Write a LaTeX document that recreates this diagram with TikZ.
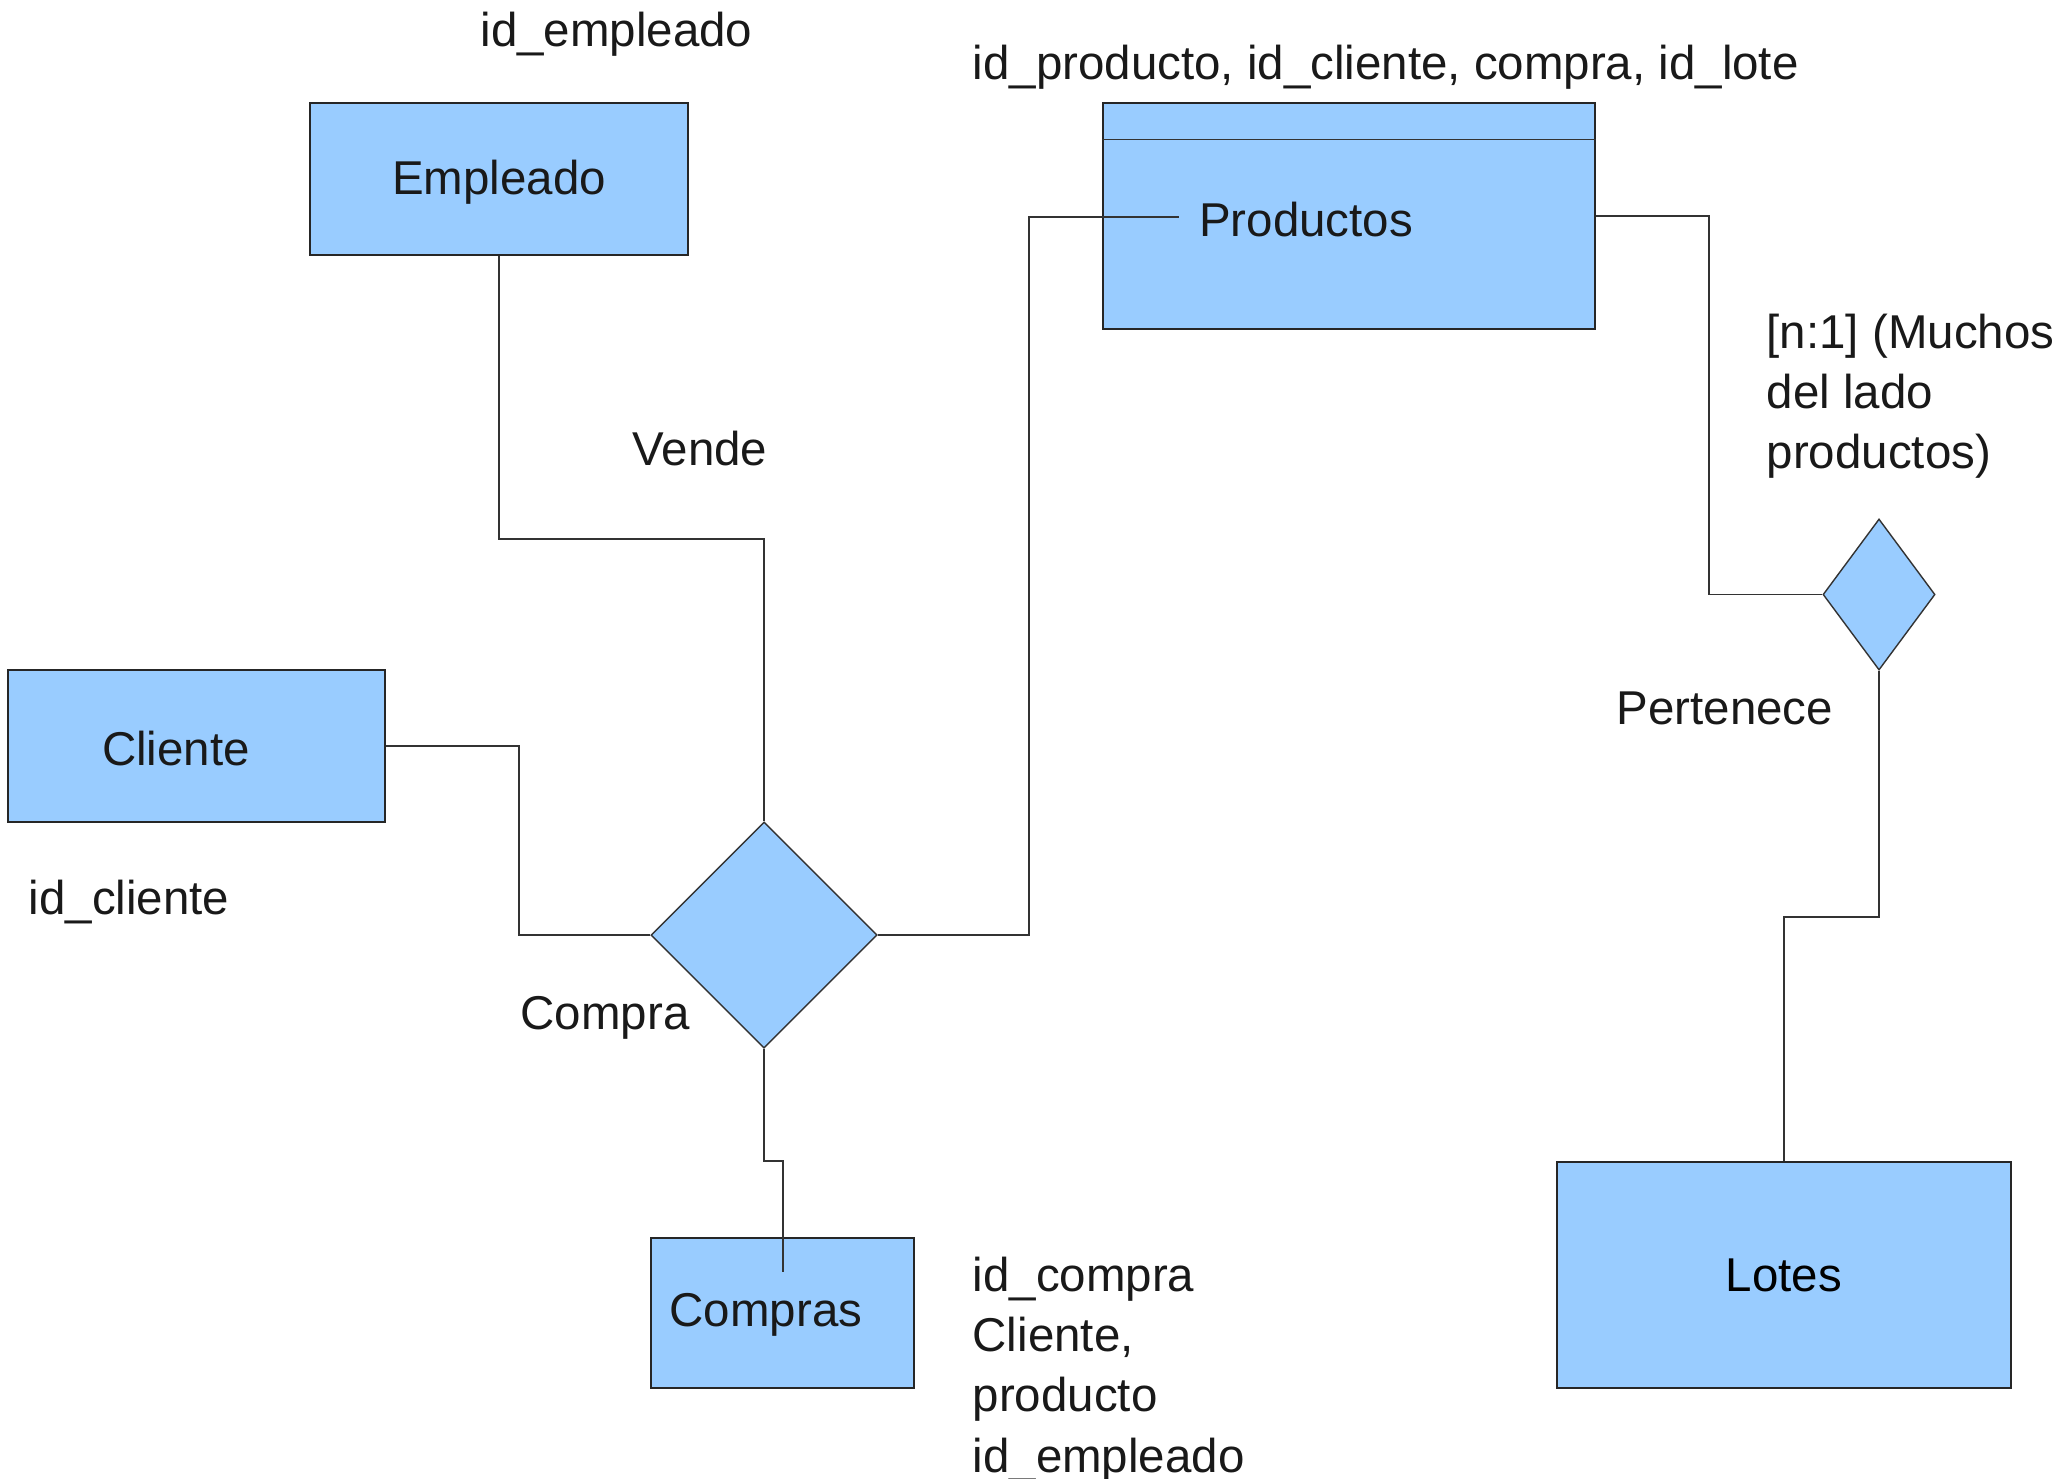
\documentclass[tikz,border=0pt]{standalone}
\usepackage{fontspec}
\setmainfont{Liberation Sans}
\usetikzlibrary{shapes.geometric}
\definecolor{celeste}{HTML}{99CCFF}

\begin{document}
\begin{tikzpicture}[x=0.01cm,y=-0.01cm,font=\fontsize{13.5}{17.1}\selectfont,
  entidad/.style={draw=black!85,fill=celeste,line width=0.5pt,inner sep=0pt},
  relacion/.style={diamond,draw=black!80,fill=celeste,line width=0.4pt,inner sep=0pt},
  texto/.style={inner sep=0pt,align=left,text=black!90,yshift=-0.03cm},
  linea/.style={draw=black!80,line width=0.5pt}]
  \useasboundingbox (0,0) rectangle (2067,1478);
  % entidades
  \node[entidad,minimum width=3.78cm,minimum height=1.52cm] (emp) at (499,179) {};
  \node[entidad,minimum width=4.92cm,minimum height=2.26cm] (prod) at (1349,216) {};
  \node[entidad,minimum width=3.77cm,minimum height=1.515cm] (cli) at (196.5,746) {};
  \node[entidad,minimum width=2.63cm,minimum height=1.505cm] (compras) at (782.5,1313) {};
  \node[entidad,minimum width=4.54cm,minimum height=2.265cm] (lotes) at (1784,1275) {Lotes};
  \draw[linea] ([yshift=-0.375cm]prod.north west) -- ([yshift=-0.375cm]prod.north east);
  \node[texto] (emptxt) at (499,179) {Empleado};
  \node[texto] (prodtxt) at (1306,217) {Productos};
  \node[texto] (clitxt) at (176,746) {Cliente};
  \node[texto] (comprastxt) at (766,1312) {Compras};
  % relaciones
  \node[relacion,minimum width=2.26cm,minimum height=2.26cm] (compra) at (764,935) {};
  \node[relacion,minimum width=1.12cm,minimum height=1.51cm] (pert) at (1879,594.5) {};
  % atributos y nombres
  \node[texto] (idemp) at (616.5,31) {id\_empleado};
  \node[texto,anchor=west] (idprod) at (972,64) {id\_producto, id\_cliente, compra, id\_lote};
  \node[texto,anchor=west] (idcli) at (28,899) {id\_cliente};
  \node[texto,anchor=west] (compratxt) at (520,1015) {Compra};
  \node[texto,anchor=west] (vende) at (632,446) {Vende};
  \node[texto,anchor=west] (idcompra) at (972,1366.5) {id\_compra\\Cliente,\\producto\\id\_empleado};
  \node[texto,anchor=west] (card) at (1766,393) {[n:1] (Muchos\\del lado\\productos)};
  \node[texto,anchor=west] (perttxt) at (1616,705) {Pertenece};
  % conexiones
  \coordinate (prodin) at (1179,217);
  \coordinate (comprasin) at (783,1272);
  \draw[linea] (emp.south) -- ++(0,283) -| (compra.north);
  \draw[linea] (cli.east) -- ++(133,0) |- (compra.west);
  \draw[linea] (compra.east) -- ++(151,0) |- (prodin);
  \draw[linea] (compra.south) -- ++(0,112) -| (comprasin);
  \draw[linea] (prod.east) -- ++(113,0) |- (pert.west);
  \draw[linea] (pert.south) -- ++(0,246) -| (lotes.north);
\end{tikzpicture}
\end{document}
